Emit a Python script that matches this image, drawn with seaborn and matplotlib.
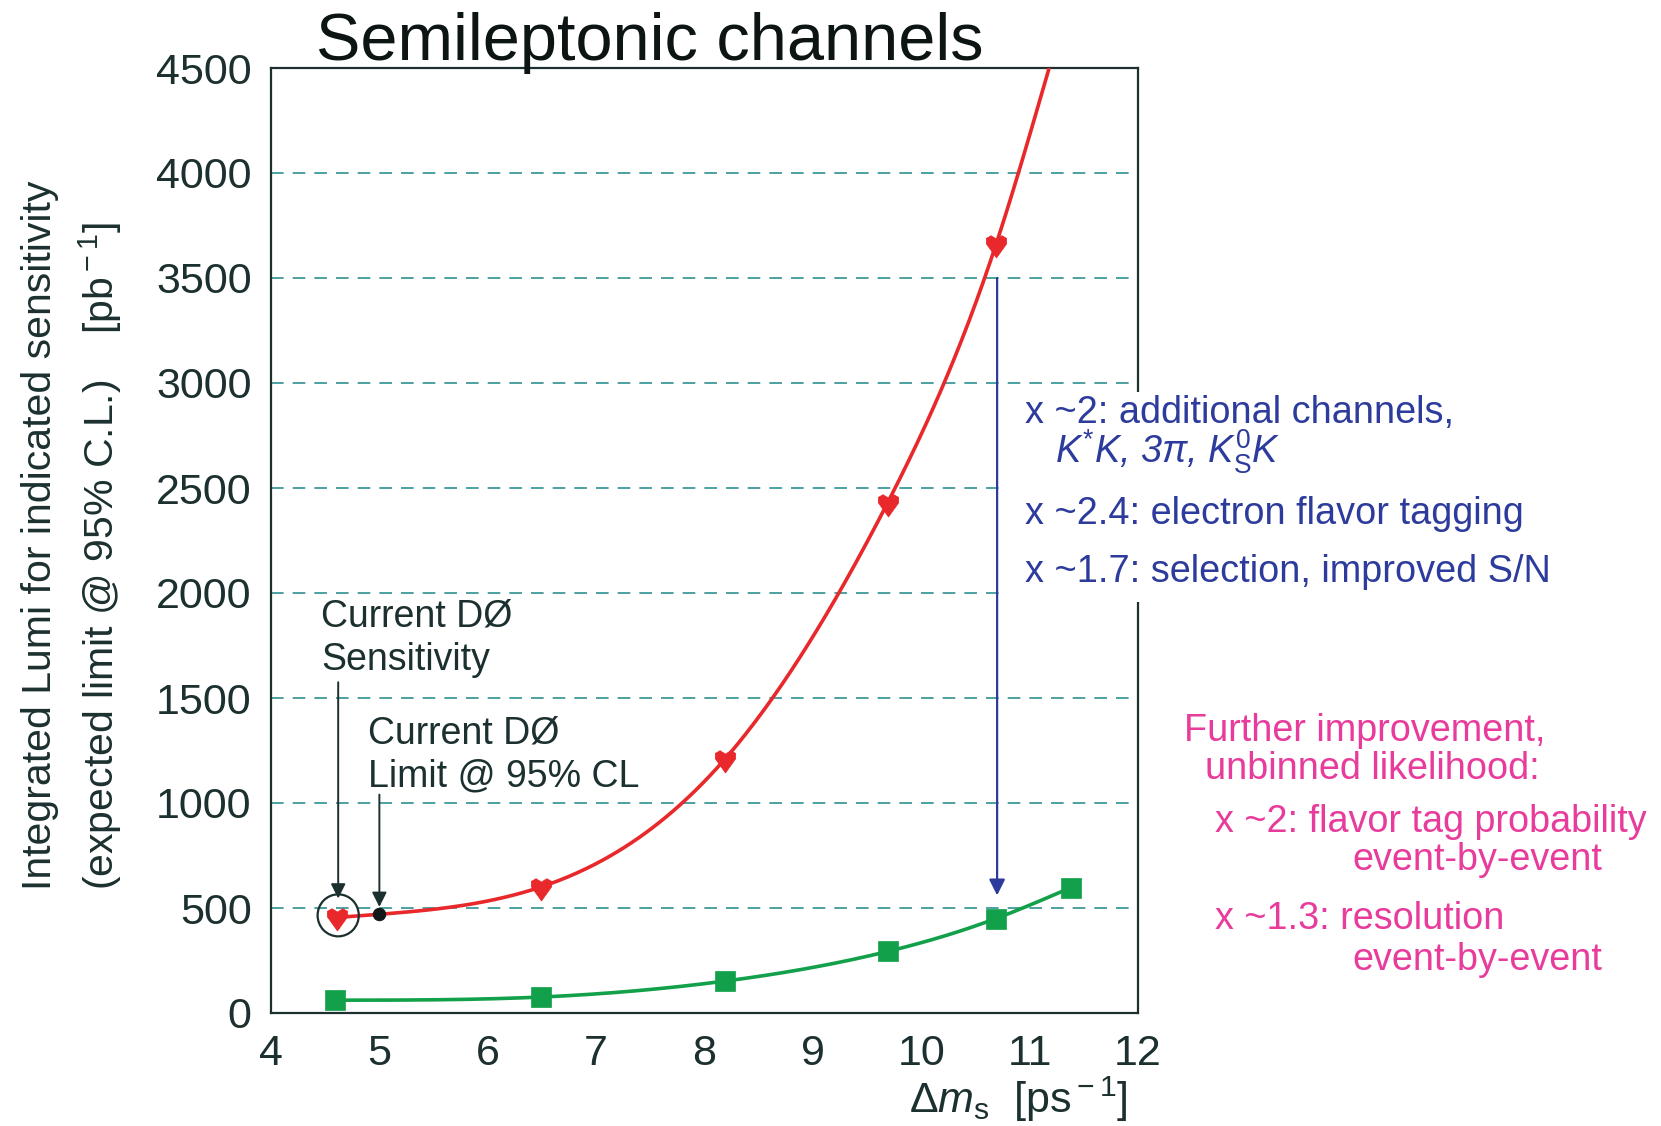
import numpy as np
import pandas as pd
import seaborn as sns
import matplotlib.pyplot as plt
from matplotlib.patches import Ellipse, Rectangle
from matplotlib.markers import MarkerStyle
from matplotlib.path import Path

# ---------------- data ----------------
red_x = [4.61, 6.49, 8.19, 9.69, 10.69]
red_y = [455, 600, 1210, 2430, 3660]
# points along the drawn red curve (start, D0 limit point, markers, exit at top)
red_curve_x = [4.61, 5.0, 6.49, 8.19, 9.69, 10.69, 11.18]
red_curve_y = [455, 470, 600, 1210, 2430, 3660, 4500]

green_x = [4.59, 6.49, 8.19, 9.69, 10.69, 11.38]
green_y = [61, 76, 152, 293, 450, 597]

limit_x = [5.0]
limit_y = [470]

x_ticks = [4, 5, 6, 7, 8, 9, 10, 11, 12]
y_ticks = [0, 500, 1000, 1500, 2000, 2500, 3000, 3500, 4000, 4500]

# ---------------- style ----------------
sns.set_theme(style="white")
plt.rcParams['font.family'] = ['Liberation Sans', 'DejaVu Sans']
plt.rcParams['mathtext.fontset'] = 'custom'
plt.rcParams['mathtext.rm'] = 'Liberation Sans'
plt.rcParams['mathtext.it'] = 'Liberation Sans:italic'
plt.rcParams['mathtext.sf'] = 'Liberation Sans'

DARK = '#1c3030'
RED = '#e8282a'
GREEN = '#12a04a'
BLUE = '#2d3c9c'
PINK = '#e83c9c'
GRID = '#3f9a9a'


def smooth(xs, ys, n=400):
    """Natural cubic spline through the read points (for drawing only)."""
    x = np.asarray(xs, float)
    y = np.asarray(ys, float)
    k = len(x)
    h = np.diff(x)
    A = np.zeros((k, k))
    b = np.zeros(k)
    A[0, 0] = 1
    A[-1, -1] = 1
    for i in range(1, k - 1):
        A[i, i - 1] = h[i - 1]
        A[i, i] = 2 * (h[i - 1] + h[i])
        A[i, i + 1] = h[i]
        b[i] = 6 * ((y[i + 1] - y[i]) / h[i] - (y[i] - y[i - 1]) / h[i - 1])
    M = np.linalg.solve(A, b)
    t = np.linspace(x[0], x[-1], n)
    idx = np.clip(np.searchsorted(x, t) - 1, 0, k - 2)
    x0, x1 = x[idx], x[idx + 1]
    hh = x1 - x0
    s = (M[idx] * (x1 - t) ** 3 / (6 * hh) + M[idx + 1] * (t - x0) ** 3 / (6 * hh)
         + (y[idx] / hh - M[idx] * hh / 6) * (x1 - t)
         + (y[idx + 1] / hh - M[idx + 1] * hh / 6) * (t - x0))
    return t, s


W, H = 1661, 1126
fig = plt.figure(figsize=(W / 100, H / 100), dpi=100)
ax = fig.add_axes([271 / W, 1 - 1013 / H, (1138 - 271) / W, (1013 - 68) / H])

# curves
rx, ry = smooth(red_curve_x, red_curve_y)
gx, gy = smooth(green_x, green_y)
sns.lineplot(x=rx, y=ry, ax=ax, color=RED, linewidth=2.6, sort=False, zorder=3)
sns.lineplot(x=gx, y=gy, ax=ax, color=GREEN, linewidth=2.6, sort=False, zorder=3)

# markers
heart = Path([(0, -1.0), (-0.75, 0.05), (-0.75, 0.45), (-0.4, 0.65), (0, 0.4),
              (0.4, 0.65), (0.75, 0.45), (0.75, 0.05), (0, -1.0)])
sns.scatterplot(x=red_x, y=red_y, ax=ax, marker=MarkerStyle(heart), s=380,
                color=RED, edgecolor=RED, linewidth=0.5, zorder=4)
sns.scatterplot(x=green_x, y=green_y, ax=ax, marker='s', s=220,
                color=GREEN, edgecolor=GREEN, linewidth=0.5, zorder=4)
sns.scatterplot(x=limit_x, y=limit_y, ax=ax, marker='o', s=80,
                color='#101818', edgecolor='#101818', zorder=5)

# axes
ax.set_xlim(4, 12)
ax.set_ylim(0, 4500)
ax.set_xticks(x_ticks)
ax.set_yticks(y_ticks)
ax.set_xticklabels([str(v) for v in x_ticks])
ax.set_yticklabels([str(v) for v in y_ticks])
ax.tick_params(axis='both', direction='out', length=9, width=1.5, color=DARK,
               labelsize=31, labelcolor=DARK, pad=6)
ax.tick_params(axis='y', pad=5)
for sp in ax.spines.values():
    sp.set_visible(True)
    sp.set_color(DARK)
    sp.set_linewidth(1.6)
ax.yaxis.grid(True, color=GRID, linestyle=(0, (7, 5)), linewidth=1.3)
ax.xaxis.grid(False)
ax.set_axisbelow(True)
ax.set_xlabel('')
ax.set_ylabel('')

# annotations
ax.add_patch(Ellipse((4.62, 465), 0.38, 200, fill=False, edgecolor=DARK,
                     linewidth=1.6, zorder=6))
ax.annotate('', xy=(4.62, 545), xytext=(4.62, 1575),
            arrowprops=dict(arrowstyle='-|>', color=DARK, lw=1.4,
                            mutation_scale=22, shrinkA=0, shrinkB=0))
ax.annotate('', xy=(5.0, 505), xytext=(5.0, 1040),
            arrowprops=dict(arrowstyle='-|>', color=DARK, lw=1.4,
                            mutation_scale=22, shrinkA=0, shrinkB=0))
ax.annotate('', xy=(10.7, 560), xytext=(10.7, 3500),
            arrowprops=dict(arrowstyle='-|>', color=BLUE, lw=1.6,
                            mutation_scale=24, shrinkA=0, shrinkB=0))

fig.text(321 / W, 1 - 638 / H, 'Current DØ\nSensitivity', fontsize=27,
         color=DARK, ha='left', va='center', linespacing=1.25)
fig.text(368 / W, 1 - 755 / H, 'Current DØ\nLimit @ 95% CL', fontsize=27,
         color=DARK, ha='left', va='center', linespacing=1.25)

# title
fig.text(316 / W, 1 - 60 / H, 'Semileptonic channels', fontsize=48,
         color='#0c1414', ha='left', va='baseline')

# axis labels
fig.text(1128 / W, 1 - 1113 / H, r'$\Delta m_{\rm s}$  [ps$^{\rm -1}$]',
         fontsize=31, color=DARK, ha='right', va='baseline')
fig.text(40 / W, 1 - 890 / H, 'Integrated Lumi for indicated sensitivity',
         fontsize=29.5, color=DARK, rotation=90, ha='center', va='bottom')
fig.text(100 / W, 1 - 890 / H, r'(expected limit @ 95% C.L.)    [pb$^{\rm -1}$]',
         fontsize=29.5, color=DARK, rotation=90, ha='center', va='bottom')

# white box behind the blue notes (covers grid and right spine)
fig.add_artist(Rectangle((1006 / W, 1 - 602 / H), (1560 - 1006) / W, (602 - 392) / H,
                         transform=fig.transFigure, facecolor='white',
                         edgecolor='none', zorder=2))

blue_kw = dict(fontsize=27.3, color=BLUE, ha='left', va='center', zorder=3)
fig.text(1025 / W, 1 - 413 / H, 'x ~2: additional channels,', **blue_kw)
fig.text(1055 / W, 1 - 452 / H, r'$K^{*}K$, 3π, $K^{0}_{\rm S}K$',
         style='italic', **blue_kw)
fig.text(1025 / W, 1 - 514 / H, 'x ~2.4: electron flavor tagging', **blue_kw)
fig.text(1025 / W, 1 - 572 / H, 'x ~1.7: selection, improved S/N', **blue_kw)

pink_kw = dict(fontsize=27.2, color=PINK, ha='left', va='center')
fig.text(1184 / W, 1 - 731 / H, 'Further improvement,', **pink_kw)
fig.text(1205 / W, 1 - 769 / H, 'unbinned likelihood:', **pink_kw)
fig.text(1215 / W, 1 - 822 / H, 'x ~2: flavor tag probability', **pink_kw)
fig.text(1352 / W, 1 - 860 / H, 'event-by-event', **pink_kw)
fig.text(1215 / W, 1 - 919 / H, 'x ~1.3: resolution', **pink_kw)
fig.text(1352 / W, 1 - 960 / H, 'event-by-event', **pink_kw)

fig.savefig('out.png', dpi=100, facecolor='white')
